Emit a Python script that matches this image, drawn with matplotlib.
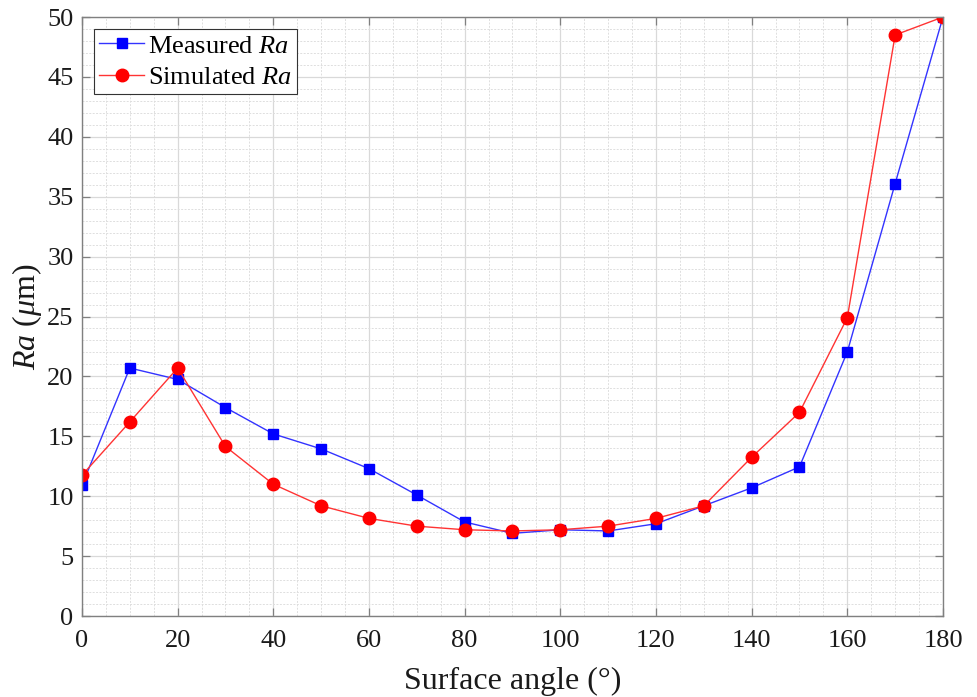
import numpy as np
import matplotlib
matplotlib.use('Agg')
import matplotlib.pyplot as plt
from matplotlib.ticker import MultipleLocator

plt.rcParams['font.family'] = ['Liberation Serif', 'DejaVu Serif']
plt.rcParams['mathtext.fontset'] = 'custom'
plt.rcParams['mathtext.rm'] = 'Liberation Serif'
plt.rcParams['mathtext.it'] = 'Liberation Serif:italic'

# surface angle (deg)
angle = [0, 10, 20, 30, 40, 50, 60, 70, 80, 90, 100, 110, 120, 130, 140, 150, 160, 170, 180]
# Ra values (um)
measured = [10.9, 20.7, 19.75, 17.4, 15.2, 13.95, 12.3, 10.1, 7.85, 6.9, 7.2, 7.1, 7.7, 9.2, 10.7, 12.45, 22.05, 36.1, 50.0]
simulated = [11.75, 16.2, 20.7, 14.15, 11.0, 9.2, 8.15, 7.5, 7.2, 7.1, 7.2, 7.5, 8.15, 9.2, 13.25, 17.0, 24.9, 48.5, 50.0]

fig = plt.figure(figsize=(9.78, 6.97), dpi=100)
ax = fig.add_axes([0.0838, 0.1162, 0.8804, 0.8594])

ax.plot(angle, measured, color='#3333ff', lw=1.0, marker='s', ms=7,
        mfc='b', mec='b', label='Measured $\\mathit{Ra}$')
ax.plot(angle, simulated, color='#ff3333', lw=1.0, marker='o', ms=9,
        mfc='r', mec='r', label='Simulated $\\mathit{Ra}$')

ax.set_xlim(0, 180)
ax.set_ylim(0, 50)
ax.xaxis.set_major_locator(MultipleLocator(20))
ax.xaxis.set_minor_locator(MultipleLocator(5))
ax.yaxis.set_major_locator(MultipleLocator(5))
ax.yaxis.set_minor_locator(MultipleLocator(1))

ax.grid(True, which='major', color='#d9d9d9', lw=0.9)
ax.grid(True, which='minor', color='#dedede', lw=0.7, ls=(0, (2, 1.5)))
ax.set_axisbelow(True)

for s in ax.spines.values():
    s.set_color('#808080')
    s.set_linewidth(1.0)
ax.tick_params(which='major', direction='in', length=6, width=0.9, color='#808080',
               top=True, right=True, labelsize=19, labelcolor='#1a1a1a')
ax.tick_params(axis='x', pad=10)
ax.tick_params(axis='y', pad=6)
ax.tick_params(which='minor', length=0, top=True, right=True)

ax.set_xlabel('Surface angle (°)', fontsize=23, color='#1a1a1a', labelpad=11)
ax.set_ylabel('$\\mathit{Ra}$ ($\\mathit{\\mu}$m)', fontsize=23, color='#1a1a1a', labelpad=2)

leg = ax.legend(loc='upper left', fontsize=19, frameon=True, fancybox=False,
                edgecolor='#333333', framealpha=1, borderpad=0.2, handlelength=1.7,
                handletextpad=0.15, labelspacing=0.3, borderaxespad=0.45)
leg.get_frame().set_linewidth(0.8)

fig.savefig('out.png', dpi=100)
